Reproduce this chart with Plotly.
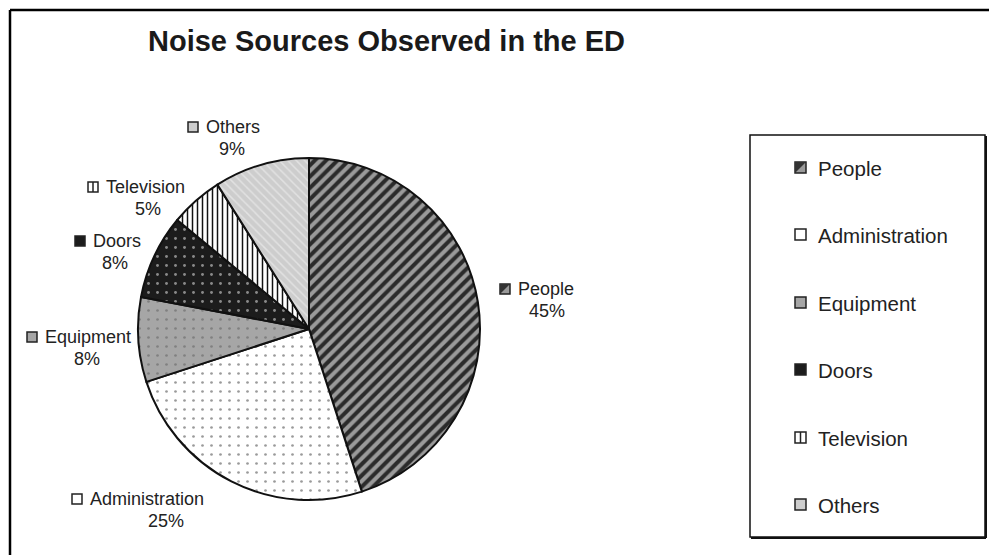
import plotly.graph_objects as go

W, H = 989, 555

# ---- data ----
categories = ["People", "Administration", "Equipment", "Doors", "Television", "Others"]
values = [45, 25, 8, 8, 5, 9]
title_text = "Noise Sources Observed in the ED"

# ---- styles ----
bg_colors = ["#9a9a9a", "#ffffff", "#a6a6a6", "#1c1c1c", "#ffffff", "#cdcdcd"]
fg_colors = ["#2b2b2b", "#9a9a9a", "#808080", "#8a8a8a", "#111111", "#e2e2e2"]
shapes_pat = ["/", ".", ".", ".", "|", "\\"]
pat_sizes = [8, 9, 9, 9, 5, 6]
pat_solid = [0.5, 0.07, 0.07, 0.08, 0.3, 0.25]

FONT = "Liberation Sans, Arial, sans-serif"


def px(x):
    return x / W


def py(y):
    return 1 - y / H


# pie geometry (pixels)
cx, cy, r = 309, 329, 171

fig = go.Figure()
fig.add_trace(go.Pie(
    labels=categories,
    values=values,
    sort=False,
    direction="clockwise",
    rotation=0,
    textinfo="none",
    hoverinfo="label+percent",
    showlegend=False,
    marker=dict(
        colors=bg_colors,
        line=dict(color="#111111", width=2),
        pattern=dict(shape=shapes_pat, fgcolor=fg_colors, bgcolor=bg_colors,
                     size=pat_sizes, solidity=pat_solid, fillmode="replace"),
    ),
    domain=dict(x=[px(cx - r), px(cx + r)], y=[py(cy + r), py(cy - r)]),
))

shapes = []
annotations = []

# outer frame (top & left)
shapes.append(dict(type="line", xref="paper", yref="paper",
                   x0=px(10), x1=px(989), y0=py(10), y1=py(10),
                   line=dict(color="#000", width=2.5)))
shapes.append(dict(type="line", xref="paper", yref="paper",
                   x0=px(10), x1=px(10), y0=py(10), y1=py(555),
                   line=dict(color="#000", width=2.5)))

# legend box
lx0, ly0, lx1, ly1 = 750, 135, 985, 537
shapes.append(dict(type="rect", xref="paper", yref="paper",
                   x0=px(lx0), x1=px(lx1), y0=py(ly1), y1=py(ly0),
                   line=dict(color="#111", width=1.5), fillcolor="rgba(0,0,0,0)"))
shapes.append(dict(type="line", xref="paper", yref="paper",
                   x0=px(lx1 + 1), x1=px(lx1 + 1), y0=py(ly1 + 1), y1=py(ly0 + 1),
                   line=dict(color="#111", width=2)))
shapes.append(dict(type="line", xref="paper", yref="paper",
                   x0=px(lx0 + 1), x1=px(lx1 + 1), y0=py(ly1 + 1), y1=py(ly1 + 1),
                   line=dict(color="#111", width=2)))


def swatch(x0, y0, i, s=11):
    """small legend-like square at pixel (x0,y0) top-left"""
    out = []
    out.append(dict(type="rect", xref="paper", yref="paper",
                    x0=px(x0), x1=px(x0 + s), y0=py(y0 + s), y1=py(y0),
                    fillcolor=bg_colors[i], line=dict(color="#222", width=1.5)))
    if shapes_pat[i] == "/":
        path = "M {a},{b} L {c},{d} L {a},{d} Z".format(
            a=px(x0), b=py(y0 + s), c=px(x0 + s), d=py(y0))
        out.append(dict(type="path", xref="paper", yref="paper", path=path,
                        fillcolor="#333", line=dict(width=0)))
    if shapes_pat[i] == "|":
        out.append(dict(type="line", xref="paper", yref="paper",
                        x0=px(x0 + s / 2), x1=px(x0 + s / 2), y0=py(y0 + s), y1=py(y0),
                        line=dict(color="#222", width=1.5)))
    return out


# legend items
leg_y = [168, 235, 303, 370, 438, 505]
for i, cat in enumerate(categories):
    shapes += swatch(795, leg_y[i] - 6, i)
    annotations.append(dict(xref="paper", yref="paper", x=px(816), y=py(leg_y[i]),
                            text=cat, showarrow=False, xanchor="left", yanchor="middle",
                            font=dict(family=FONT, size=20.5, color="#222")))

# pie labels (name + percent)
lab_pos = {  # (swatch-x, name-center-y, percent-center-x)
    "People": (500, 289, 547),
    "Administration": (72, 499, 166),
    "Equipment": (27, 337, 87),
    "Doors": (75, 241, 115),
    "Television": (88, 187, 148),
    "Others": (188, 127, 232),
}
for i, cat in enumerate(categories):
    sx, ny, pcx = lab_pos[cat]
    shapes += swatch(sx, ny - 5, i, s=10)
    annotations.append(dict(xref="paper", yref="paper", x=px(sx + 16), y=py(ny),
                            text=cat, showarrow=False, xanchor="left", yanchor="middle",
                            font=dict(family=FONT, size=18, color="#222")))
    annotations.append(dict(xref="paper", yref="paper", x=px(pcx), y=py(ny + 22),
                            text=f"{values[i]}%", showarrow=False, xanchor="center",
                            yanchor="middle",
                            font=dict(family=FONT, size=18, color="#222")))

# title
annotations.append(dict(xref="paper", yref="paper", x=px(386), y=py(41),
                        text=f"<b>{title_text}</b>", showarrow=False,
                        xanchor="center", yanchor="middle",
                        font=dict(family=FONT, size=29, color="#1a1a1a")))

fig.update_layout(
    width=W, height=H,
    margin=dict(l=0, r=0, t=0, b=0),
    paper_bgcolor="#ffffff",
    plot_bgcolor="#ffffff",
    shapes=shapes,
    annotations=annotations,
    showlegend=False,
)

fig.write_html("out.html")
